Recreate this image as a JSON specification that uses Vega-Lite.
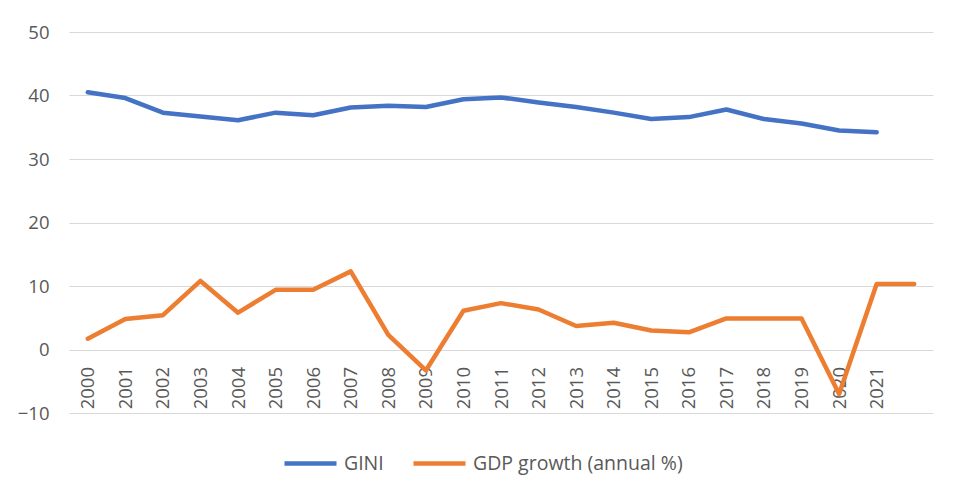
{
  "$schema": "https://vega.github.io/schema/vega-lite/v6.json",
  "width": 864,
  "height": 381,
  "autosize": {"type": "none"},
  "padding": {"left": 69, "top": 32, "right": 22, "bottom": 82},
  "background": "white",
  "config": {
    "font": "Open Sans",
    "view": {"stroke": null}
  },
  "data": {
    "values": [
      {"year": "2000", "series": "GINI", "value": 40.5},
      {"year": "2001", "series": "GINI", "value": 39.6},
      {"year": "2002", "series": "GINI", "value": 37.3},
      {"year": "2003", "series": "GINI", "value": 36.7},
      {"year": "2004", "series": "GINI", "value": 36.1},
      {"year": "2005", "series": "GINI", "value": 37.3},
      {"year": "2006", "series": "GINI", "value": 36.9},
      {"year": "2007", "series": "GINI", "value": 38.1},
      {"year": "2008", "series": "GINI", "value": 38.4},
      {"year": "2009", "series": "GINI", "value": 38.2},
      {"year": "2010", "series": "GINI", "value": 39.4},
      {"year": "2011", "series": "GINI", "value": 39.7},
      {"year": "2012", "series": "GINI", "value": 38.9},
      {"year": "2013", "series": "GINI", "value": 38.2},
      {"year": "2014", "series": "GINI", "value": 37.3},
      {"year": "2015", "series": "GINI", "value": 36.3},
      {"year": "2016", "series": "GINI", "value": 36.6},
      {"year": "2017", "series": "GINI", "value": 37.8},
      {"year": "2018", "series": "GINI", "value": 36.3},
      {"year": "2019", "series": "GINI", "value": 35.6},
      {"year": "2020", "series": "GINI", "value": 34.5},
      {"year": "2021", "series": "GINI", "value": 34.2},
      {"year": "2000", "series": "GDP growth (annual %)", "value": 1.7},
      {"year": "2001", "series": "GDP growth (annual %)", "value": 4.8},
      {"year": "2002", "series": "GDP growth (annual %)", "value": 5.4},
      {"year": "2003", "series": "GDP growth (annual %)", "value": 10.8},
      {"year": "2004", "series": "GDP growth (annual %)", "value": 5.8},
      {"year": "2005", "series": "GDP growth (annual %)", "value": 9.4},
      {"year": "2006", "series": "GDP growth (annual %)", "value": 9.4},
      {"year": "2007", "series": "GDP growth (annual %)", "value": 12.3},
      {"year": "2008", "series": "GDP growth (annual %)", "value": 2.3},
      {"year": "2009", "series": "GDP growth (annual %)", "value": -3.3},
      {"year": "2010", "series": "GDP growth (annual %)", "value": 6.1},
      {"year": "2011", "series": "GDP growth (annual %)", "value": 7.3},
      {"year": "2012", "series": "GDP growth (annual %)", "value": 6.3},
      {"year": "2013", "series": "GDP growth (annual %)", "value": 3.7},
      {"year": "2014", "series": "GDP growth (annual %)", "value": 4.2},
      {"year": "2015", "series": "GDP growth (annual %)", "value": 3.0},
      {"year": "2016", "series": "GDP growth (annual %)", "value": 2.7},
      {"year": "2017", "series": "GDP growth (annual %)", "value": 4.9},
      {"year": "2018", "series": "GDP growth (annual %)", "value": 4.9},
      {"year": "2019", "series": "GDP growth (annual %)", "value": 4.9},
      {"year": "2020", "series": "GDP growth (annual %)", "value": -7.0},
      {"year": "2021", "series": "GDP growth (annual %)", "value": 10.3},
      {"year": " ", "series": "GDP growth (annual %)", "value": 10.3}
    ]
  },
  "mark": {"type": "line", "strokeWidth": 4.5, "strokeCap": "round", "strokeJoin": "round"},
  "encoding": {
    "x": {
      "field": "year",
      "type": "ordinal",
      "sort": null,
      "scale": {"type": "point", "padding": 0.5},
      "axis": {
        "title": null,
        "offset": -63.5,
        "domain": false,
        "ticks": false,
        "grid": false,
        "labelAngle": -90,
        "labelPadding": 17,
        "labelFontSize": 18.5,
        "labelColor": "#595959"
      }
    },
    "y": {
      "field": "value",
      "type": "quantitative",
      "scale": {"domain": [-10, 50], "nice": false, "zero": false},
      "axis": {
        "title": null,
        "values": [-10, 0, 10, 20, 30, 40, 50],
        "domain": false,
        "ticks": false,
        "grid": true,
        "gridColor": "#D9D9D9",
        "gridWidth": 1,
        "labelPadding": 20,
        "labelFontSize": 18.5,
        "labelColor": "#595959"
      }
    },
    "color": {
      "field": "series",
      "type": "nominal",
      "scale": {
        "domain": ["GINI", "GDP growth (annual %)"],
        "range": ["#4472C4", "#ED7D31"]
      },
      "legend": {
        "title": null,
        "orient": "none",
        "legendX": 213,
        "legendY": 403,
        "direction": "horizontal",
        "symbolType": "stroke",
        "symbolSize": 2704,
        "symbolStrokeWidth": 4.5,
        "labelFontSize": 19.5,
        "labelColor": "#595959",
        "labelOffset": 5,
        "columnPadding": 20,
        "labelLimit": 400
      }
    }
  }
}
